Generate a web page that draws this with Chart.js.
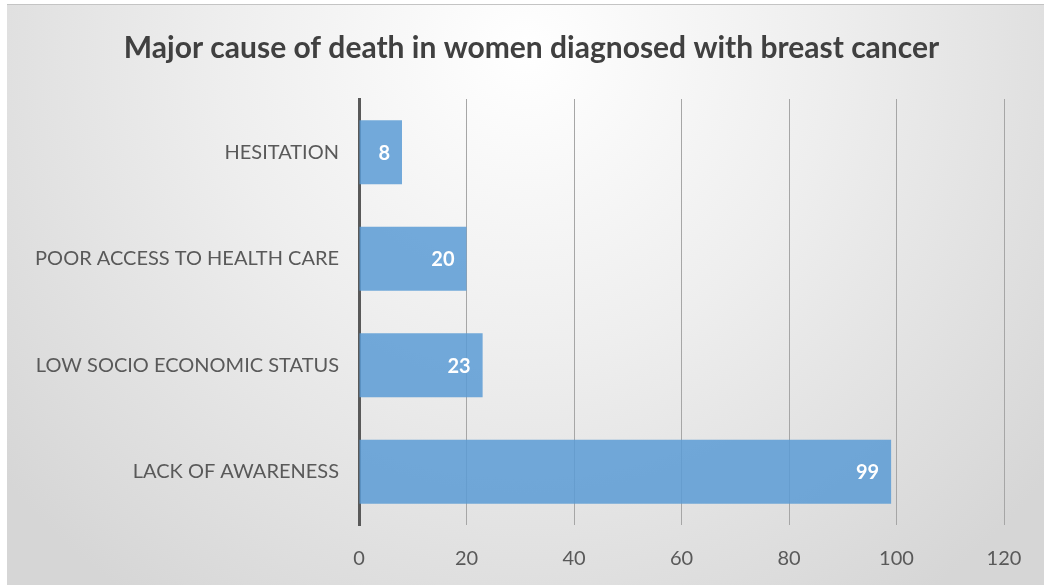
<!DOCTYPE html>
<html><head><meta charset="utf-8">
<script src="https://cdn.jsdelivr.net/npm/chart.js@4"></script>
<style>
html,body{margin:0;padding:0;background:#fff;width:1044px;height:585px;overflow:hidden;}
#wrap{position:absolute;left:7px;top:4px;width:1037px;height:581px;border-top:1px solid #c4c4c4;box-sizing:border-box;}
</style></head>
<body>
<div id="wrap"><canvas id="c" width="1037" height="580"></canvas></div>
<script>
const categories = ["HESITATION", "POOR ACCESS TO HEALTH CARE", "LOW SOCIO ECONOMIC STATUS", "LACK OF AWARENESS"];
const values = [8, 20, 23, 99];
const xTicks = [0, 20, 40, 60, 80, 100, 120];
const titleText = "Major cause of death in women diagnosed with breast cancer";

const FONT = "Lato";

const bgPlugin = {
  id: 'bg',
  beforeDraw(chart) {
    const {ctx, width, height} = chart;
    const g = ctx.createRadialGradient(width*0.5, height*0.08, 0, width*0.5, height*0.08, width*0.65);
    g.addColorStop(0, '#ffffff');
    g.addColorStop(0.45, '#eeeeee');
    g.addColorStop(1, '#d6d6d6');
    ctx.save();
    ctx.fillStyle = g;
    ctx.fillRect(0, 0, width, height);
    ctx.restore();
  }
};

const titlePlugin = {
  id: 'ctitle',
  afterDraw(chart) {
    const {ctx, width} = chart;
    ctx.save();
    ctx.fillStyle = '#404040';
    ctx.font = 'bold 30px ' + FONT;
    ctx.textAlign = 'center';
    ctx.textBaseline = 'middle';
    ctx.fillText(titleText, width / 2 + 6, 43);
    ctx.restore();
  }
};

const labelPlugin = {
  id: 'vlabels',
  afterDatasetsDraw(chart) {
    const {ctx} = chart;
    const meta = chart.getDatasetMeta(0);
    ctx.save();
    ctx.fillStyle = '#ffffff';
    ctx.font = 'bold 20px ' + FONT;
    ctx.textAlign = 'right';
    ctx.textBaseline = 'middle';
    meta.data.forEach((bar, i) => {
      ctx.fillText(String(values[i]), bar.x - 12, bar.y + 1);
    });
    ctx.restore();
  }
};

new Chart(document.getElementById('c'), {
  type: 'bar',
  data: {
    labels: categories,
    datasets: [{
      data: values,
      backgroundColor: 'rgba(91,155,213,0.85)',
      borderWidth: 0,
      barPercentage: 0.6,
      categoryPercentage: 1.0
    }]
  },
  plugins: [bgPlugin, labelPlugin, titlePlugin],
  options: {
    indexAxis: 'y',
    responsive: false,
    animation: false,
    devicePixelRatio: 1,
    layout: {padding: {left: 0, right: 40, top: 94, bottom: 0}},
    plugins: {
      legend: {display: false},
      tooltip: {enabled: false},
      title: {display: false}
    },
    scales: {
      x: {
        min: 0, max: 120,
        afterBuildTicks(axis) { axis.ticks = xTicks.map(v => ({value: v})); },
        afterFit(axis) { axis.height = 60; },
        grid: {color: '#a6a6a6', lineWidth: 1, drawTicks: false},
        border: {display: false},
        ticks: {color: '#595959', font: {family: FONT, size: 20}, padding: 22}
      },
      y: {
        afterFit(axis) { axis.width = 352; },
        grid: {display: false, drawTicks: false},
        border: {display: true, color: '#595959', width: 3},
        ticks: {color: '#595959', font: {family: FONT, size: 20}, padding: 20}
      }
    }
  }
});
</script>
</body></html>
